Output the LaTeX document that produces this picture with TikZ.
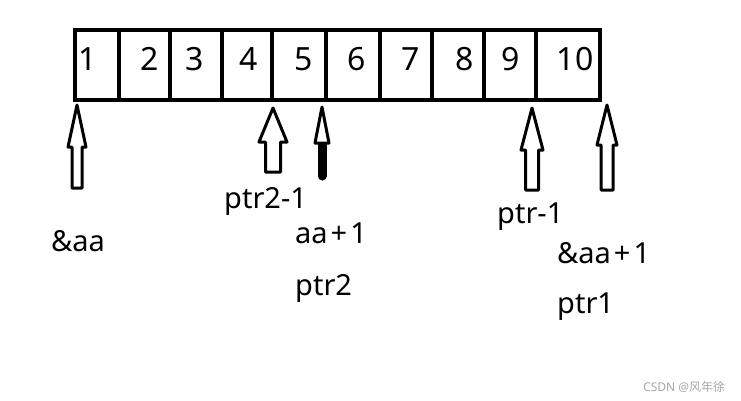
\documentclass[tikz,border=0pt]{standalone}
\usepackage{fontspec}
\setmainfont{Noto Sans}
\newfontfamily\cjkfont{Noto Sans CJK SC}
\begin{document}
\begin{tikzpicture}[x=1pt,y=-1pt,
  cellbox/.style={draw,line width=4pt,minimum height=70pt,inner sep=0pt,outer sep=0pt},
  digit/.style={font=\fontsize{32}{32}\selectfont,inner sep=0pt,anchor=base},
  lab/.style={font=\fontsize{29}{29}\selectfont,inner sep=0pt,anchor=base west},
  barrow/.style={draw,line width=3pt,line join=round,fill=white}]
\useasboundingbox (0,0) rectangle (741,400);
% cells
\foreach \i/\a/\b in {1/75/119,2/119/169.5,3/169.5/221.5,4/221.5/272,5/272/326,6/326/379.5,7/379.5/431.5,8/431.5/483.5,9/483.5/535.6,10/535.6/600}{
  \node[cellbox,minimum width={(\b-\a)*1pt}] (c\i) at ({(\a+\b)/2},65) {};
}
% digits
\foreach \i/\x in {1/88,2/150,3/195,4/249,5/304,6/357,7/411,8/465,9/511,10/575}{
  \node[digit] (d\i) at (\x,70) {\i};
}
% arrows
\coordinate (t1) at (77,105);
\draw[barrow] (t1) -- (86,147) -- (82,147) -- (82,188) -- (72,188) -- (72,147) -- (68,147) -- cycle;
\coordinate (t2) at (273,108);
\draw[barrow] (t2) -- (287,142) -- (280.5,142) -- (280.5,172) -- (265.5,172) -- (265.5,142) -- (259,142) -- cycle;
\coordinate (t3) at (322,107);
\draw[line width=9pt,line cap=round] (322,145) -- (322,176);
\draw[barrow] (t3) -- (329,143) -- (315,143) -- cycle;
\coordinate (t4) at (532,108);
\draw[barrow] (t4) -- (543,150) -- (538.5,150) -- (538.5,190) -- (525.5,190) -- (525.5,150) -- (521,150) -- cycle;
\coordinate (t5) at (607,105);
\draw[barrow] (t5) -- (617,145) -- (613,145) -- (613,190) -- (601,190) -- (601,145) -- (597,145) -- cycle;
% labels
\node[lab] (l1) at (51,251) {\&aa};
\node[lab] (l2) at (224,208) {ptr2-1};
\node[lab] (l3) at (295,243) {aa\kern3pt+\kern3pt1};
\node[lab] (l4) at (295,295) {ptr2};
\node[lab] (l5) at (497,223) {ptr-1};
\node[lab] (l6) at (557,263) {\&aa\kern3pt+\kern3pt1};
\node[lab] (l7) at (557,313) {ptr1};
\node[font=\fontsize{12}{12}\selectfont,text=black!35,inner sep=0pt,anchor=west] (wm) at (643,387) {CSDN @{\cjkfont 风年徐}};
\end{tikzpicture}
\end{document}
